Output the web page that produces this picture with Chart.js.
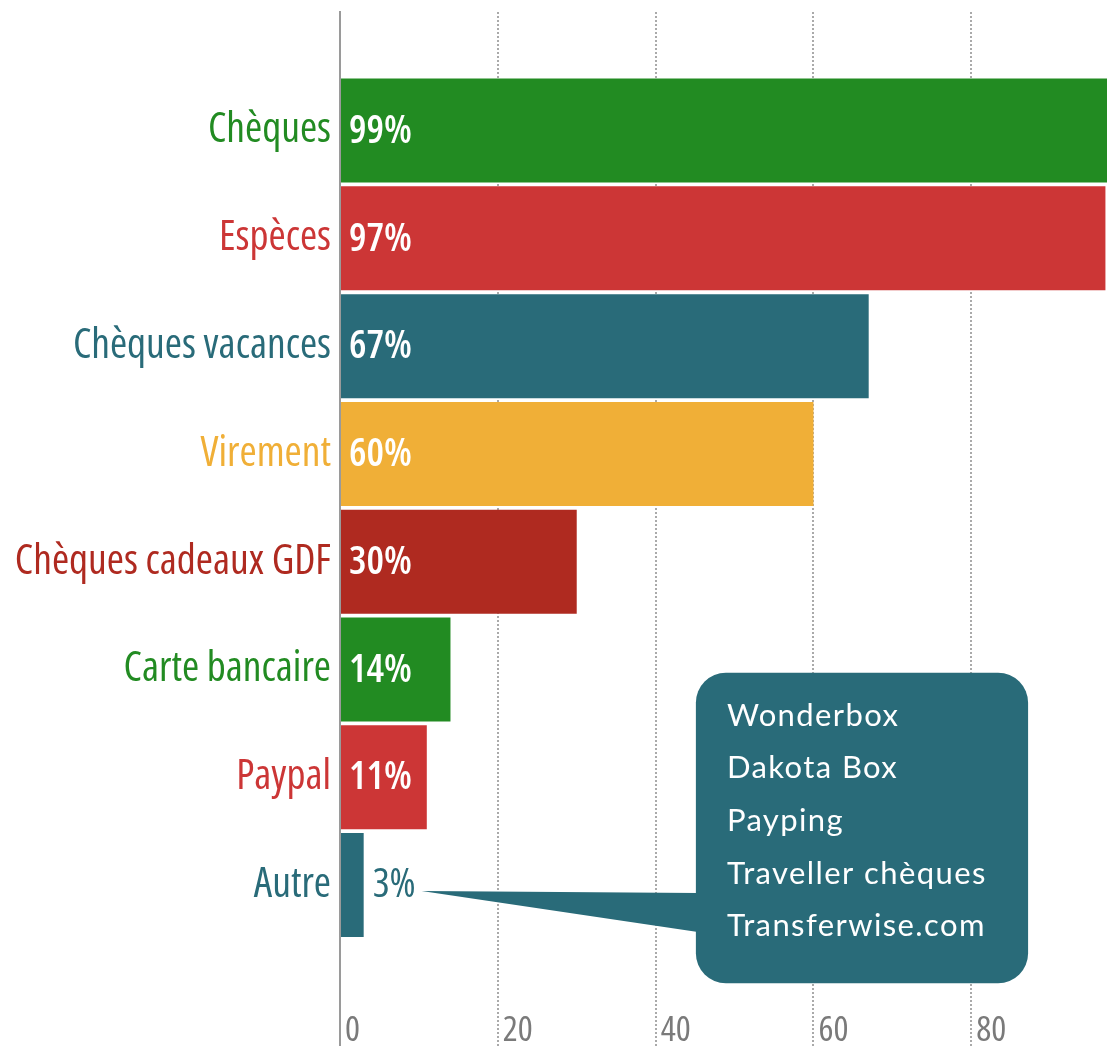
<!DOCTYPE html>
<html><head><meta charset="utf-8">
<script src="https://cdn.jsdelivr.net/npm/chart.js@4.4.0/dist/chart.umd.min.js"></script>
<style>html,body{margin:0;padding:0;background:#fff;overflow:hidden}#wrap{width:1107px;height:1046px;position:relative}</style>
</head><body><div id="wrap"><canvas id="c"></canvas></div>
<script>
const categories = ['Chèques','Espèces','Chèques vacances','Virement','Chèques cadeaux GDF','Carte bancaire','Paypal','Autre'];
const values = [99,97,67,60,30,14,11,3];
const colors = ['#228B22','#CC3636','#296B79','#F0AF37','#AF2A20','#228B22','#CC3636','#296B79'];
const xTicks = [0,20,40,60,80];
const calloutLines = ['Wonderbox','Dakota Box','Payping','Traveller chèques','Transferwise.com'];

// pick the available font whose width/height ratio is closest to the reference's narrow font
function pickFont(sample, targetWidth, targetCap, weight) {
  const c = document.createElement('canvas').getContext('2d');
  const cands = [
    ['extra-condensed', '"Noto Sans"'], ['condensed', '"Noto Sans"'], ['semi-condensed', '"Noto Sans"'],
    ['condensed', '"Open Sans"'], ['semi-condensed', '"Open Sans"'],
    ['condensed', '"DejaVu Sans"'], ['normal', 'Roboto'], ['normal', '"Liberation Sans Narrow"'],
    ['condensed', 'Inter'], ['normal', 'Lato']
  ];
  const goal = targetWidth / targetCap;
  let best = null;
  for (const [st, fam] of cands) {
    c.font = weight + ' ' + st + ' 100px ' + fam;
    const w = c.measureText(sample).width;
    const cap = c.measureText('H').actualBoundingBoxAscent || 72;
    const ratio = w / cap;
    const score = Math.abs(Math.log(ratio / goal));
    if (!best || score < best.score) best = { st, fam, w, score };
  }
  const size = Math.round(100 * targetWidth / best.w * 10) / 10;
  return { family: best.fam, weight: weight + ' ' + best.st, size };
}

const catFont = pickFont('Chèques vacances', 258, 28, '400');
const valFont = pickFont('67%', 63, 30, '600');
const outFont = pickFont('3%', 43, 28, '500');
const xFont = pickFont('20', 30, 26, '400');
const CALLOUT_FONT = 'Lato, "Open Sans", sans-serif';
const fstr = (f) => f.weight + ' ' + f.size + 'px ' + f.family;

const valueLabels = {
  id: 'valueLabels',
  afterDatasetsDraw(chart) {
    const ctx = chart.ctx;
    const meta = chart.getDatasetMeta(0);
    ctx.save();
    ctx.textBaseline = 'middle';
    ctx.textAlign = 'left';
    meta.data.forEach((bar, i) => {
      const p = bar.getProps(['x','y','base'], true);
      const txt = values[i] + '%';
      ctx.font = fstr(valFont);
      const w = ctx.measureText(txt).width;
      if (Math.min(p.x, chart.chartArea.right) - p.base > w + 12) {
        ctx.fillStyle = '#ffffff';
        ctx.fillText(txt, p.base + 8, p.y + 1);
      } else {
        ctx.fillStyle = colors[i];
        ctx.font = fstr(outFont);
        ctx.fillText(txt, p.x + 9, p.y + 1);
      }
    });
    ctx.restore();
  }
};

const callout = {
  id: 'callout',
  afterDraw(chart) {
    const ctx = chart.ctx;
    const xs = chart.scales.x, ys = chart.scales.y;
    const meta = chart.getDatasetMeta(0);
    const last = meta.data.length - 1;
    const bp = meta.data[last].getProps(['x','y'], true);
    ctx.save();
    ctx.font = fstr(outFont);
    const lw = ctx.measureText(values[last] + '%').width;
    const tipX = bp.x + 9 + lw + 6, tipY = bp.y + 6;
    const left = xs.getPixelForValue(45.1), right = xs.getPixelForValue(87.2);
    const top = ys.getPixelForValue(5.03), bottom = ys.getPixelForValue(7.91);
    const r = 30;
    ctx.fillStyle = '#296B79';
    ctx.beginPath();
    ctx.moveTo(left + r, top);
    ctx.arcTo(right, top, right, bottom, r);
    ctx.arcTo(right, bottom, left, bottom, r);
    ctx.arcTo(left, bottom, left, top, r);
    ctx.arcTo(left, top, right, top, r);
    ctx.closePath();
    ctx.fill();
    ctx.beginPath();
    ctx.moveTo(tipX, tipY);
    ctx.lineTo(left + 2, ys.getPixelForValue(7.074));
    ctx.lineTo(left + 2, ys.getPixelForValue(7.436));
    ctx.closePath();
    ctx.fill();
    ctx.fillStyle = '#ffffff';
    ctx.font = '31px ' + CALLOUT_FONT;
    try { ctx.letterSpacing = '1.4px'; } catch (e) {}
    ctx.textBaseline = 'alphabetic';
    ctx.textAlign = 'left';
    calloutLines.forEach((t, i) => {
      ctx.fillText(t, left + 31, top + 53 + i * 52.6);
    });
    ctx.restore();
  }
};

new Chart(document.getElementById('c'), {
  type: 'bar',
  data: {
    datasets: [{
      data: categories.map((c, i) => ({ x: values[i], y: i })),
      backgroundColor: colors,
      borderWidth: 0,
      categoryPercentage: 1,
      barPercentage: 0.965
    }]
  },
  options: {
    indexAxis: 'y',
    responsive: true,
    maintainAspectRatio: false,
    animation: false,
    layout: { padding: { top: 12, left: 0, right: 0, bottom: 0 } },
    plugins: { legend: { display: false }, tooltip: { enabled: false } },
    scales: {
      x: {
        type: 'linear',
        position: 'bottom',
        min: 0,
        max: 97.2,
        offset: false,
        afterBuildTicks(scale) { scale.ticks = xTicks.map(v => ({ value: v })); },
        afterFit(scale) { scale.height = 46; scale.paddingLeft = 0; scale.paddingRight = 0; },
        border: {
          display: false,
          dash: (c) => (c.tick && c.tick.value === 0) ? [] : [2, 2]
        },
        grid: {
          color: (c) => (c.tick && c.tick.value === 0) ? '#9a9a9a' : '#aaaaaa',
          lineWidth: 2,
          tickLength: 46,
          tickColor: (c) => (c.tick && c.tick.value === 0) ? '#9a9a9a' : '#aaaaaa',
          tickWidth: 2,
          tickBorderDash: (c) => (c.tick && c.tick.value === 0) ? [] : [2, 2]
        },
        ticks: {
          align: 'start',
          labelOffset: 5,
          padding: -36,
          color: '#7a7a7a',
          font: { family: xFont.family, weight: xFont.weight, size: xFont.size },
          autoSkip: false,
          maxRotation: 0,
          callback: (v) => String(v)
        }
      },
      y: {
        type: 'linear',
        reverse: true,
        offset: false,
        min: -1.1,
        max: 8.066,
        afterBuildTicks(scale) { scale.ticks = categories.map((c, i) => ({ value: i })); },
        afterFit(scale) { scale.width = 340; scale.paddingTop = 0; scale.paddingBottom = 0; },
        border: { display: true, color: '#9a9a9a', width: 2 },
        grid: { display: false, drawTicks: false, offset: false },
        ticks: {
          autoSkip: false,
          padding: 9,
          font: { family: catFont.family, weight: catFont.weight, size: catFont.size },
          color: (c) => colors[c.tick ? c.tick.value : c.index] || '#333',
          callback: (v) => categories[v] !== undefined ? categories[v] : ''
        }
      }
    }
  },
  plugins: [valueLabels, callout]
});
</script>
</body></html>
